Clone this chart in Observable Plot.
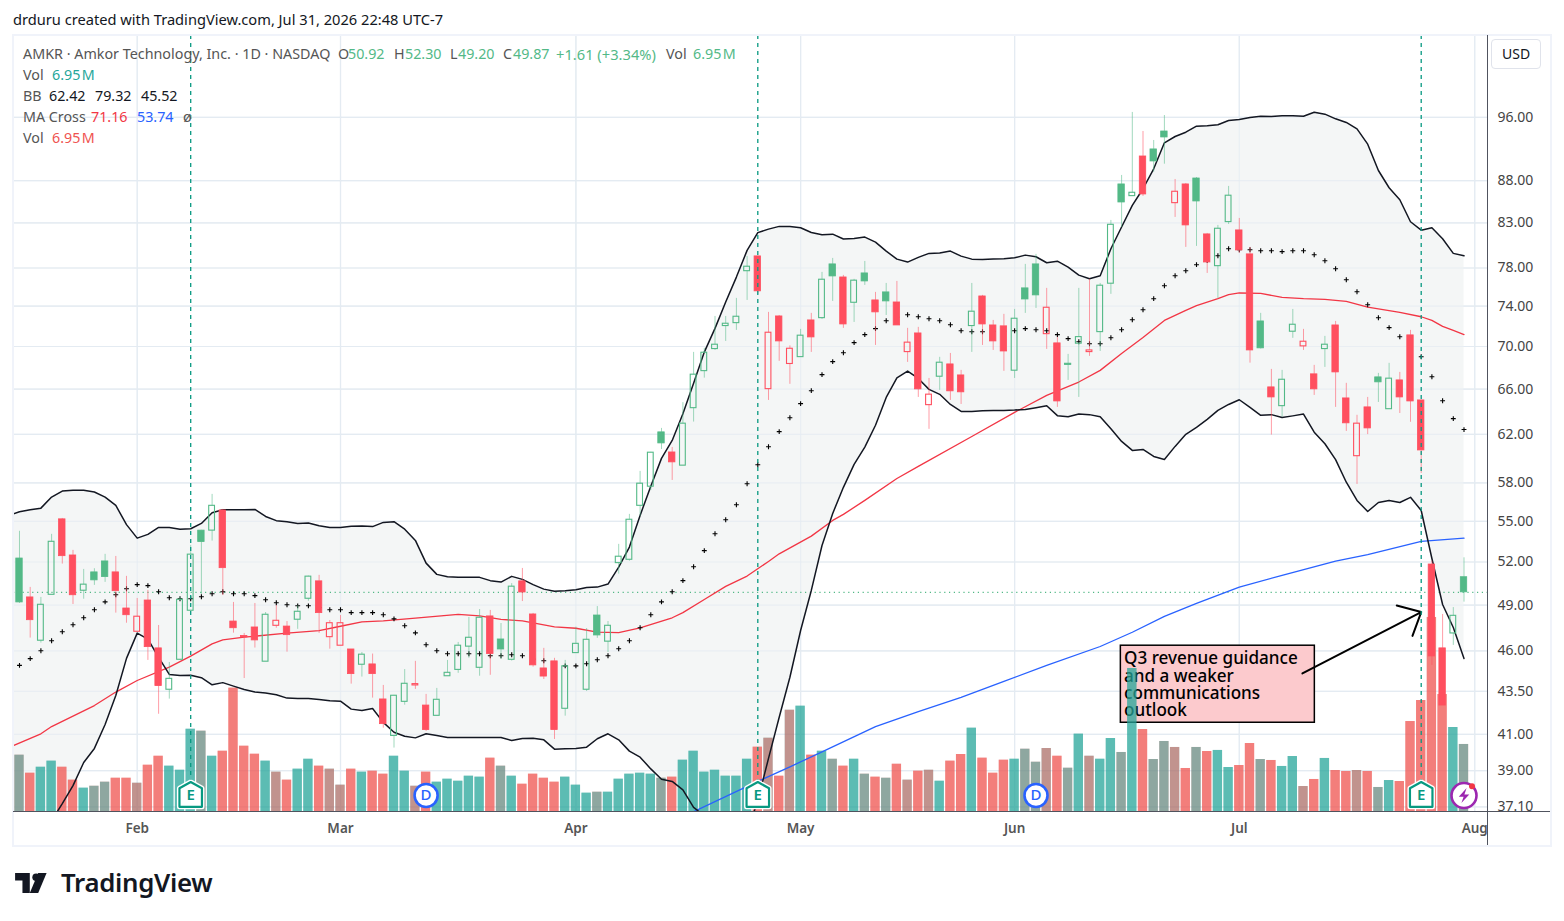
<!DOCTYPE html>
<html>
<head>
<meta charset="utf-8">
<style>
html,body{margin:0;padding:0;background:#fff;overflow:hidden;width:1564px;height:921px}
#root{position:relative;width:1564px;height:921px;font-family:"Noto Sans",sans-serif;color:#555}
.abs{position:absolute;white-space:pre;line-height:1}
</style>
<script src="https://cdn.jsdelivr.net/npm/d3@7"></script>
<script src="https://cdn.jsdelivr.net/npm/@observablehq/plot@0.6"></script>
</head>
<body>
<div id="root"></div>
<script>
const opens=[
52.25,49.52,46.65,49.70,55.15,52.47,49.98,51.26,52.04,51.26,
48.77,47.23,49.31,46.16,43.60,45.44,48.62,54.30,54.30,55.83,
47.90,46.96,47.51,45.32,47.62,47.57,48.02,49.43,50.63,46.88,
46.33,46.09,45.13,45.15,43.02,40.91,42.88,43.86,42.66,42.06,
44.42,44.81,46.27,44.94,48.24,46.73,45.44,50.63,48.37,44.90,
45.34,42.47,45.86,43.60,48.30,46.59,51.92,52.16,56.19,57.69,
62.18,60.48,59.39,64.29,67.66,69.75,72.00,72.29,77.66,79.26,
66.00,72.96,68.33,68.98,72.56,72.79,78.39,76.99,74.35,77.42,
74.59,75.42,74.38,69.46,71.27,64.56,67.14,68.29,67.26,72.00,
75.00,72.06,71.97,67.70,75.84,78.39,71.20,70.30,68.36,70.27,
69.46,71.40,76.33,87.53,86.13,90.97,91.86,94.16,85.30,87.53,
88.25,81.70,78.20,83.10,82.15,79.48,72.46,66.16,64.47,71.44,
70.01,67.36,69.75,72.06,65.16,60.17,64.36,67.08,64.20,66.80,
71.08,64.98,51.82,46.16,47.12,50.92];
const closes=[
49.18,47.99,49.02,53.47,52.42,49.67,50.40,50.70,50.93,49.95,
48.32,48.22,46.24,43.82,44.26,49.36,52.53,53.45,56.19,51.56,
47.46,46.86,46.67,48.35,47.95,47.01,48.55,50.96,48.46,47.79,
47.79,44.55,45.76,44.55,41.58,43.24,43.96,43.94,41.24,43.00,
44.63,46.33,46.84,48.15,45.80,46.09,50.26,49.86,45.09,44.40,
41.24,45.03,46.45,46.71,46.99,47.62,52.38,55.12,57.93,60.46,
61.24,59.66,62.93,67.33,69.40,70.17,72.23,72.93,78.14,75.53,
71.34,70.49,69.78,71.05,70.88,76.75,77.10,72.16,76.65,76.57,
73.37,74.49,72.06,70.37,65.98,65.50,68.45,65.80,65.71,73.44,
72.16,70.49,69.52,72.73,74.69,75.11,73.84,64.89,68.23,70.91,
69.62,76.12,82.79,85.38,86.53,86.33,90.35,93.39,86.65,82.72,
85.50,78.60,82.34,86.18,79.92,69.62,69.82,65.25,66.86,72.13,
70.46,65.98,70.17,67.54,62.96,62.93,62.52,66.62,66.96,65.25,
64.89,60.65,45.65,42.66,48.28,49.87];
const highs=[
54.25,50.21,49.52,54.02,55.22,52.84,51.47,51.52,52.55,52.40,
50.98,49.45,50.00,47.64,45.27,49.52,53.20,54.32,57.08,55.91,
49.18,47.12,49.11,48.50,48.97,47.90,48.95,51.00,51.05,47.97,
48.30,46.09,45.90,45.80,43.86,43.26,44.83,45.34,43.32,43.68,
45.40,46.54,48.17,48.70,48.64,47.77,50.47,51.54,48.44,46.16,
45.53,45.40,47.53,47.44,48.90,47.90,53.28,55.53,58.92,60.49,
62.52,60.90,64.78,69.43,69.82,72.96,72.96,74.80,79.26,79.26,
73.37,73.06,70.06,71.67,73.27,77.53,79.04,77.21,76.79,78.71,
75.42,76.36,76.57,71.77,71.87,66.98,68.96,69.33,67.73,76.36,
75.11,72.56,73.17,73.67,78.39,79.48,75.84,70.88,69.24,75.84,
76.79,76.36,83.29,88.62,96.67,94.16,93.00,96.26,88.13,87.65,
88.37,81.81,82.72,87.29,83.52,80.25,73.27,67.82,67.73,73.67,
71.67,68.20,70.98,72.46,66.53,63.66,65.25,67.45,68.39,67.54,
71.57,64.98,52.06,48.37,48.83,52.30];
const lows=[
49.11,46.82,46.50,49.70,51.85,49.04,49.40,50.35,50.56,48.46,
47.79,47.23,45.40,42.15,43.04,45.40,48.62,49.72,53.52,49.65,
47.14,44.28,46.18,45.32,47.46,45.92,47.39,49.26,47.12,46.11,
46.33,43.94,44.37,43.10,41.35,40.23,42.68,43.62,41.16,42.06,
44.42,44.60,45.54,44.42,44.48,45.46,45.36,49.24,44.98,44.22,
40.71,42.04,45.86,43.50,46.80,45.90,51.14,52.06,55.37,57.38,
60.73,58.19,59.39,63.07,67.01,69.62,70.49,71.57,74.59,75.22,
64.98,68.58,66.44,68.98,69.43,72.66,74.49,71.77,72.36,76.15,
70.10,73.06,72.06,68.48,65.25,62.44,65.89,64.98,64.62,69.43,
70.10,69.62,67.64,66.98,73.27,73.77,69.72,64.36,66.80,65.25,
69.05,69.52,75.22,82.49,86.13,86.09,89.02,90.01,83.64,80.25,
80.36,77.42,74.80,82.83,79.59,68.41,69.75,61.95,63.50,70.79,
69.62,65.43,68.01,64.36,62.26,57.87,61.99,64.80,64.20,63.82,
63.05,58.75,45.09,42.66,46.35,49.20];
const rising=[
1,0,1,1,0,0,1,1,1,0,
0,0,0,0,1,1,1,1,1,0,
0,0,0,1,0,0,1,1,0,0,
0,0,1,0,0,1,1,0,0,1,
1,1,1,1,0,1,1,0,0,0,
0,1,1,1,1,1,1,1,1,1,
1,0,1,1,1,1,1,1,1,0,
0,0,0,1,0,1,1,0,1,1,
0,1,0,0,0,0,1,0,0,1,
0,0,0,1,1,1,0,0,1,1,
0,1,1,1,1,0,1,1,0,0,
1,0,1,1,0,0,1,0,1,1,
0,0,1,0,0,0,0,1,1,0,
0,0,0,0,1,1];
const volumes=[
5.84,3.97,4.59,5.22,4.59,3.25,2.42,2.62,3.04,3.45,
3.45,2.93,4.80,5.73,4.70,4.28,8.53,8.33,5.73,6.25,
12.79,6.77,5.94,5.22,4.08,3.25,4.39,5.42,4.70,4.39,
2.73,4.39,4.08,4.18,3.87,5.73,4.18,2.62,4.08,3.04,
3.35,3.14,3.66,3.56,5.53,4.70,3.66,2.83,3.87,3.45,
3.04,3.56,2.73,1.90,2.00,2.00,3.35,3.87,3.97,3.87,
3.45,3.56,5.32,6.25,4.08,4.28,3.66,3.66,5.42,6.67,
7.60,3.66,10.50,10.92,5.84,6.25,5.42,4.70,5.42,3.87,
3.56,3.45,4.90,3.25,4.18,4.28,3.14,5.22,5.91,8.64,
5.53,3.97,5.32,5.42,6.46,5.11,6.53,5.73,4.49,8.02,
5.73,5.42,7.57,6.12,14.83,8.50,5.39,7.26,6.64,4.46,
6.64,6.22,6.33,4.56,4.77,7.05,5.39,5.29,4.67,5.70,
2.59,3.32,5.50,4.25,4.15,4.25,4.15,2.49,3.21,3.11,
9.33,11.51,20.12,12.13,8.71,6.95];
// Bollinger bands; the first value of the two outer bands is the bar before the visible range
const bbUpper=[55.45,
55.73,55.88,56.01,56.87,57.34,57.40,57.40,57.27,56.87,56.22,
54.75,53.74,54.02,54.54,54.54,54.41,54.44,54.84,55.66,55.88,
55.88,55.88,55.91,55.37,55.05,54.97,54.84,54.87,54.67,54.54,
54.54,54.62,54.64,54.60,54.92,54.97,54.41,53.57,51.92,51.12,
50.96,50.91,50.91,50.91,50.68,50.58,50.98,50.77,50.40,50.09,
49.95,49.98,50.05,50.21,50.23,50.44,51.63,53.08,55.45,57.72,
59.99,61.49,63.80,66.53,69.46,71.77,74.42,77.03,79.92,81.90,
82.30,82.61,82.61,82.46,81.92,81.67,81.73,81.18,81.25,81.40,
80.84,79.84,78.96,78.64,79.15,79.59,79.62,79.84,79.29,78.96,
78.93,78.98,79.00,79.11,79.40,79.22,78.57,78.74,78.10,77.24,
76.86,77.18,80.10,82.54,85.03,87.01,89.44,92.70,93.51,94.07,
94.86,94.91,95.04,95.60,95.73,96.00,96.17,96.13,96.23,96.23,
96.17,96.70,96.44,95.82,95.34,94.51,92.53,89.23,87.13,85.70,
83.14,82.18,82.46,81.22,79.59,79.32];
const bbLower=[34.0,
34.3,34.8,35.4,36.4,37.26,38.20,39.44,40.21,41.56,43.26,
45.53,47.14,46.75,45.59,44.53,44.47,44.48,44.33,43.90,44.03,
43.82,43.62,43.46,43.40,43.30,43.10,43.08,43.08,43.02,42.94,
42.92,42.45,42.37,42.49,41.68,41.12,40.89,40.80,41.03,40.93,
40.82,40.82,40.82,40.82,40.82,40.82,40.65,40.76,40.78,40.69,
40.17,40.19,40.21,40.28,40.75,41.03,40.69,40.06,39.73,39.09,
38.54,38.42,37.98,37.07,36.65,36.2,35.8,35.5,35.8,37.42,
39.66,41.98,44.36,47.31,50.00,53.20,55.60,57.64,59.49,60.93,
62.79,65.25,67.03,67.66,66.98,65.98,65.53,64.62,64.00,64.00,
64.06,64.09,64.09,64.12,64.18,64.33,64.50,63.63,63.54,63.77,
63.72,63.54,62.50,61.41,60.65,60.73,60.15,59.90,60.99,62.01,
62.61,63.31,64.09,64.62,65.04,64.36,63.66,63.72,63.46,63.61,
63.77,62.20,61.21,59.88,58.05,56.61,55.75,56.45,56.61,56.45,
56.85,55.83,52.25,49.04,47.51,45.52];
const bbBasis=[
45.09,45.51,46.01,46.65,47.23,47.69,48.15,48.69,49.22,49.70,
50.12,50.40,50.33,49.91,49.50,49.43,49.43,49.57,49.77,49.91,
49.77,49.77,49.64,49.36,49.16,49.02,48.95,48.95,48.84,48.69,
48.69,48.49,48.49,48.49,48.35,48.08,47.62,47.16,46.39,46.01,
45.82,45.82,45.82,45.82,45.69,45.69,45.76,45.69,45.48,45.38,
45.21,45.06,45.06,45.19,45.44,45.69,46.14,46.65,47.49,48.35,
49.22,49.91,50.68,51.66,52.82,54.07,55.12,56.27,57.93,59.46,
60.96,62.24,63.45,64.69,65.86,67.33,68.55,69.40,70.37,71.15,
71.74,72.53,72.89,73.13,72.93,72.73,72.53,72.13,71.54,71.44,
71.44,71.47,71.50,71.54,71.74,71.64,71.54,71.15,70.76,70.46,
70.27,70.27,70.85,71.64,72.63,73.64,74.77,76.12,77.17,77.71,
78.36,78.82,79.33,80.10,79.99,79.99,79.88,79.88,79.78,79.88,
79.88,79.44,78.79,77.92,76.75,75.49,74.15,72.83,71.84,70.95,
70.10,69.01,67.14,64.95,63.37,62.42];
const ma50Bars=[-1,2,3,7,9,11,14,16,18,19,21,25,28,30,32,34,37,41,43,45,47,50,52,54,56,58,61,62,64,66,68,70,71,74,76,77,79,82,84,89,93,96,99,101,103,105,107,109,110,112,113,114,116,118,120,122,124,126,129,131,132,133,134,135];
const ma50Values=[40.26,41.03,41.44,42.66,43.46,44.16,44.98,45.67,46.45,46.71,46.88,47.14,47.31,47.59,47.88,47.94,48.12,48.37,48.28,48.04,47.95,47.55,47.46,47.20,47.18,47.49,48.15,48.49,49.38,50.28,51.00,52.04,52.59,53.89,55.07,55.53,56.61,58.35,59.33,61.83,63.92,65.43,66.65,67.73,69.33,70.88,72.56,73.57,74.05,74.77,75.20,75.36,75.31,74.91,74.77,74.69,74.49,73.91,73.37,72.93,72.56,71.97,71.57,71.16];
const ma200Bars=[63,69,72,75,80,84,88,91,92,96,101,104,107,110,114,118,123,126,131,135];
const ma200Values=[36.85,38.42,39.20,40.02,41.44,42.31,43.14,43.86,44.10,45.09,46.28,47.20,48.24,49.11,50.23,51.05,52.06,52.53,53.50,53.74];
const priceTicks=[96,88,83,78,74,70,66,62,58,55,52,49,46,43.5,41,39,37.1];
const monthBars=[11,30,52,73,93,114,136];
const monthNames=["Feb","Mar","Apr","May","Jun","Jul","Aug"];
const earningsBars=[16,69,131];
const dividendBars=[38,95];
const lastClose=49.87;
const noteLines=["Q3 revenue guidance","and a weaker","communications","outlook"];
const noteLinePrices=[45.51,44.43,43.38,42.37];
const noteBox={x1:102.93,x2:121.06,y1:41.66,y2:46.33};
const noteArrow={x1:119.9,y1:44.59,x2:131,y2:48.53};
const iconPrice=37.68;

const GREEN="#53b987",RED="#ff4f5f",TEAL="#089981";
const bars=opens.map((o,i)=>({i,o,c:closes[i],h:highs[i],l:lows[i],up:rising[i]===1,v:volumes[i],
  hi:Math.max(o,closes[i]),lo:Math.min(o,closes[i]),hollow:closes[i]>o}));
const band=bbUpper.map((u,k)=>({i:k-1,u,l:bbLower[k]}));
const basis=bbBasis.map((b,i)=>({i,b}));
const ma50=ma50Bars.map((i,k)=>({i,v:ma50Values[k]}));
const ma200=ma200Bars.map((i,k)=>({i,v:ma200Values[k]}));
const monthName=new Map(monthBars.map((b,k)=>[b,monthNames[k]]));
const candleColor=d=>d.up?GREEN:RED;

const frameOpts={width:1564,height:921,marginLeft:13,marginRight:77,marginTop:35,marginBottom:110,
  style:{position:"absolute",left:"0",top:"0",background:"transparent",fontFamily:'"Noto Sans",sans-serif'}};
const xs={type:"linear",domain:[-0.5607,137.196],axis:null};
const ys={type:"log",domain:[36.86,107.49],axis:null};

const house={draw(ctx,size){const r=Math.sqrt(size/Math.PI);
  ctx.moveTo(0,-r*1.08);ctx.lineTo(r*.9,-r*.58);ctx.lineTo(r*.9,r*.9);ctx.lineTo(-r*.9,r*.9);ctx.lineTo(-r*.9,-r*.58);ctx.closePath();}};
const bolt={draw(ctx,size){const r=Math.sqrt(size/Math.PI);
  ctx.moveTo(r*.35,-r);ctx.lineTo(-r*.7,r*.15);ctx.lineTo(-r*.05,r*.15);ctx.lineTo(-r*.35,r);ctx.lineTo(r*.7,-r*.15);ctx.lineTo(r*.05,-r*.15);ctx.closePath();}};

// layer 1: grid, band, note, axes
const baseLayer=Plot.plot({...frameOpts,x:xs,y:ys,marks:[
  Plot.ruleY(priceTicks,{stroke:"#e4ebf2",strokeWidth:1.2}),
  Plot.ruleX(monthBars,{stroke:"#e4ebf2",strokeWidth:1.2}),
  Plot.areaY(band,{x:"i",y1:"l",y2:"u",fill:"#f4f6f6",clip:true}),
  Plot.ruleY(priceTicks,{stroke:"#e4ebf2",strokeWidth:1.2,strokeOpacity:.7}),
  Plot.ruleX(monthBars,{stroke:"#e4ebf2",strokeWidth:1.2,strokeOpacity:.7}),
  Plot.rect([noteBox],{x1:"x1",x2:"x2",y1:"y1",y2:"y2",fill:"#fccacd",stroke:"#000",strokeWidth:1.5}),
  Plot.text(noteLines,{x:()=>noteBox.x1+.3,y:(d,k)=>noteLinePrices[k],text:d=>d,textAnchor:"start",fontSize:17.1,fontWeight:500,fill:"#000"}),
  Plot.arrow([noteArrow],{x1:"x1",y1:"y1",x2:"x2",y2:"y2",bend:0,stroke:"#000",strokeWidth:2,headLength:19,headAngle:85}),
  Plot.axisY(priceTicks,{anchor:"right",tickSize:0,tickPadding:10,tickFormat:d=>d.toFixed(2),label:null,fontSize:14,fill:"#444"}),
  Plot.axisX(monthBars,{anchor:"bottom",tickSize:0,tickPadding:12,tickFormat:d=>monthName.get(d),label:null,fontSize:13.5,fontWeight:600,fill:"#555"})
]});

// layer 2: the two volume studies, stacked with half opacity
const volLayer=(fill)=>Plot.rect(bars,{x1:d=>d.i-.435,x2:d=>d.i+.435,y1:0,y2:"v",fill,fillOpacity:.5,clip:true});
const volumeLayer=Plot.plot({...frameOpts,x:xs,y:{type:"linear",domain:[0,80.47],axis:null},color:{type:"identity"},marks:[
  volLayer(d=>d.hollow?"#26a69a":"#ef5350"),
  volLayer(d=>d.up?"#26a69a":"#ef5350")
]});

// layer 3: price, studies, events
const priceLayer=Plot.plot({...frameOpts,x:xs,y:ys,color:{type:"identity"},marks:[
  Plot.ruleY([lastClose],{stroke:GREEN,strokeDasharray:"1.2 3.6",strokeWidth:1.2}),
  Plot.line(ma50,{x:"i",y:"v",stroke:"#f23645",strokeWidth:1.3,clip:true}),
  Plot.line(ma200,{x:"i",y:"v",stroke:"#2962ff",strokeWidth:1.3,clip:true}),
  Plot.line(band,{x:"i",y:"u",stroke:"#131722",strokeWidth:1.5,clip:true}),
  Plot.line(band,{x:"i",y:"l",stroke:"#131722",strokeWidth:1.5,clip:true}),
  Plot.dot(basis,{x:"i",y:"b",symbol:"plus",r:1.7,stroke:"#000",strokeWidth:1.1,fill:"none"}),
  Plot.ruleX(bars,{x:"i",y1:"hi",y2:"h",stroke:candleColor,strokeOpacity:.55,strokeWidth:1}),
  Plot.ruleX(bars,{x:"i",y1:"lo",y2:"l",stroke:candleColor,strokeOpacity:.55,strokeWidth:1}),
  Plot.rect(bars.filter(d=>!d.hollow),{x1:d=>d.i-.3,x2:d=>d.i+.3,y1:"lo",y2:"hi",fill:candleColor,stroke:candleColor,strokeWidth:.8}),
  Plot.rect(bars.filter(d=>d.hollow),{x1:d=>d.i-.27,x2:d=>d.i+.27,y1:"lo",y2:"hi",fill:"none",stroke:candleColor,strokeWidth:1.1}),
  Plot.ruleX(earningsBars,{stroke:TEAL,strokeDasharray:"4 4",strokeWidth:1.3}),
  Plot.dot(earningsBars,{x:d=>d,y:()=>iconPrice,symbol:house,r:12.5,fill:"#fff",stroke:"#fff",strokeWidth:5,strokeLinejoin:"round"}),
  Plot.dot(earningsBars,{x:d=>d,y:()=>iconPrice,symbol:house,r:12.5,fill:"#fff",stroke:TEAL,strokeWidth:2.2,strokeLinejoin:"round"}),
  Plot.text(earningsBars,{x:d=>d,y:()=>iconPrice,text:()=>"E",fill:TEAL,fontSize:15,fontWeight:600}),
  Plot.dot(dividendBars,{x:d=>d,y:()=>iconPrice,r:11.5,fill:"#fff",stroke:"#2962ff",strokeWidth:2.6}),
  Plot.text(dividendBars,{x:d=>d,y:()=>iconPrice,text:()=>"D",fill:"#2962ff",fontSize:15,fontWeight:500}),
  Plot.dot([135],{x:d=>d,y:()=>iconPrice,r:12.5,fill:"#fff",stroke:"#9c27b0",strokeWidth:2.6}),
  Plot.dot([135],{x:d=>d,y:()=>iconPrice,symbol:bolt,r:7.5,fill:"#9c27b0"}),
  Plot.dot([135.75],{x:d=>d,y:()=>38.16,r:3,fill:"#f23645"})
]});

const root=document.getElementById("root");
root.append(baseLayer,volumeLayer,priceLayer);

function put(text,left,topY,color,size,extra){
  const s=document.createElement("div");s.className="abs";s.textContent=text;
  s.style.left=left+"px";s.style.top=topY+"px";s.style.color=color;s.style.fontSize=(size||14)+"px";
  if(extra)Object.assign(s.style,extra);root.append(s);return s;}
function box(l,t,w,h,css){const s=document.createElement("div");s.style.cssText=`position:absolute;left:${l}px;top:${t}px;width:${w}px;height:${h}px;${css}`;root.append(s);}

// frame furniture
box(12,34,1536,809,"border:2px solid #f0f3fa;box-sizing:content-box");
box(13,811,1537,1,"background:#50535e");
box(1487,35,1,810,"background:#50535e");
box(1491,39,50,30,"border:1px solid #e0e3eb;border-radius:4px;box-sizing:border-box");
put("USD",1502,47,"#131722",14);

put("drduru created with TradingView.com, Jul 31, 2026 22:48 UTC-7",13,12,"#131722",14.65);
const LBL="#555";
const MM="6.95\u200aM";
put("AMKR · Amkor Technology, Inc. · 1D · NASDAQ",23,47,LBL,14.33);
put("O",338,47,LBL,14.3);put("50.92",348,47,GREEN,14.3);
put("H",394,47,LBL,14.3);put("52.30",405,47,GREEN,14.3);
put("L",450,47,LBL,14.3);put("49.20",458,47,GREEN,14.3);
put("C",503,47,LBL,14.3);put("49.87",513,47,GREEN,14.3);
put("+1.61 (+3.34%)",556,47,GREEN,14.7);
put("Vol",666,47,LBL,14.3);put(MM,693,47,GREEN,14.3);
put("Vol",23,68,LBL,14.3);put(MM,52,68,"#26a69a",14.3);
put("BB",23,89,LBL,14.3);put("62.42",49,89,"#131722",14.3);put("79.32",95,89,"#131722",14.3);put("45.52",141,89,"#131722",14.3);
put("MA Cross",23,110,LBL,14.3);put("71.16",91,110,"#f23645",14.3);put("53.74",137,110,"#2962ff",14.3);put("ø",183,110,LBL,14.3);
put("Vol",23,131,LBL,14.3);put(MM,52,131,"#ef5350",14.3);

// wordmark
const logo=document.createElement("div");
logo.style.cssText="position:absolute;left:15px;top:872px;width:40px;height:24px";
logo.innerHTML='<svg width="38" height="21" viewBox="0 0 36 20"><path d="M14 1H0v7h7v12h7V1Z" fill="#131722"/><circle cx="20" cy="5" r="3.6" fill="#131722"/><path d="M30 1 22 20h-8l8-19h8Z" fill="#131722"/></svg>';
root.append(logo);
put("TradingView",61,869.5,"#131722",25.8,{fontWeight:"600",letterSpacing:"-.3px"});
</script>
</body>
</html>
